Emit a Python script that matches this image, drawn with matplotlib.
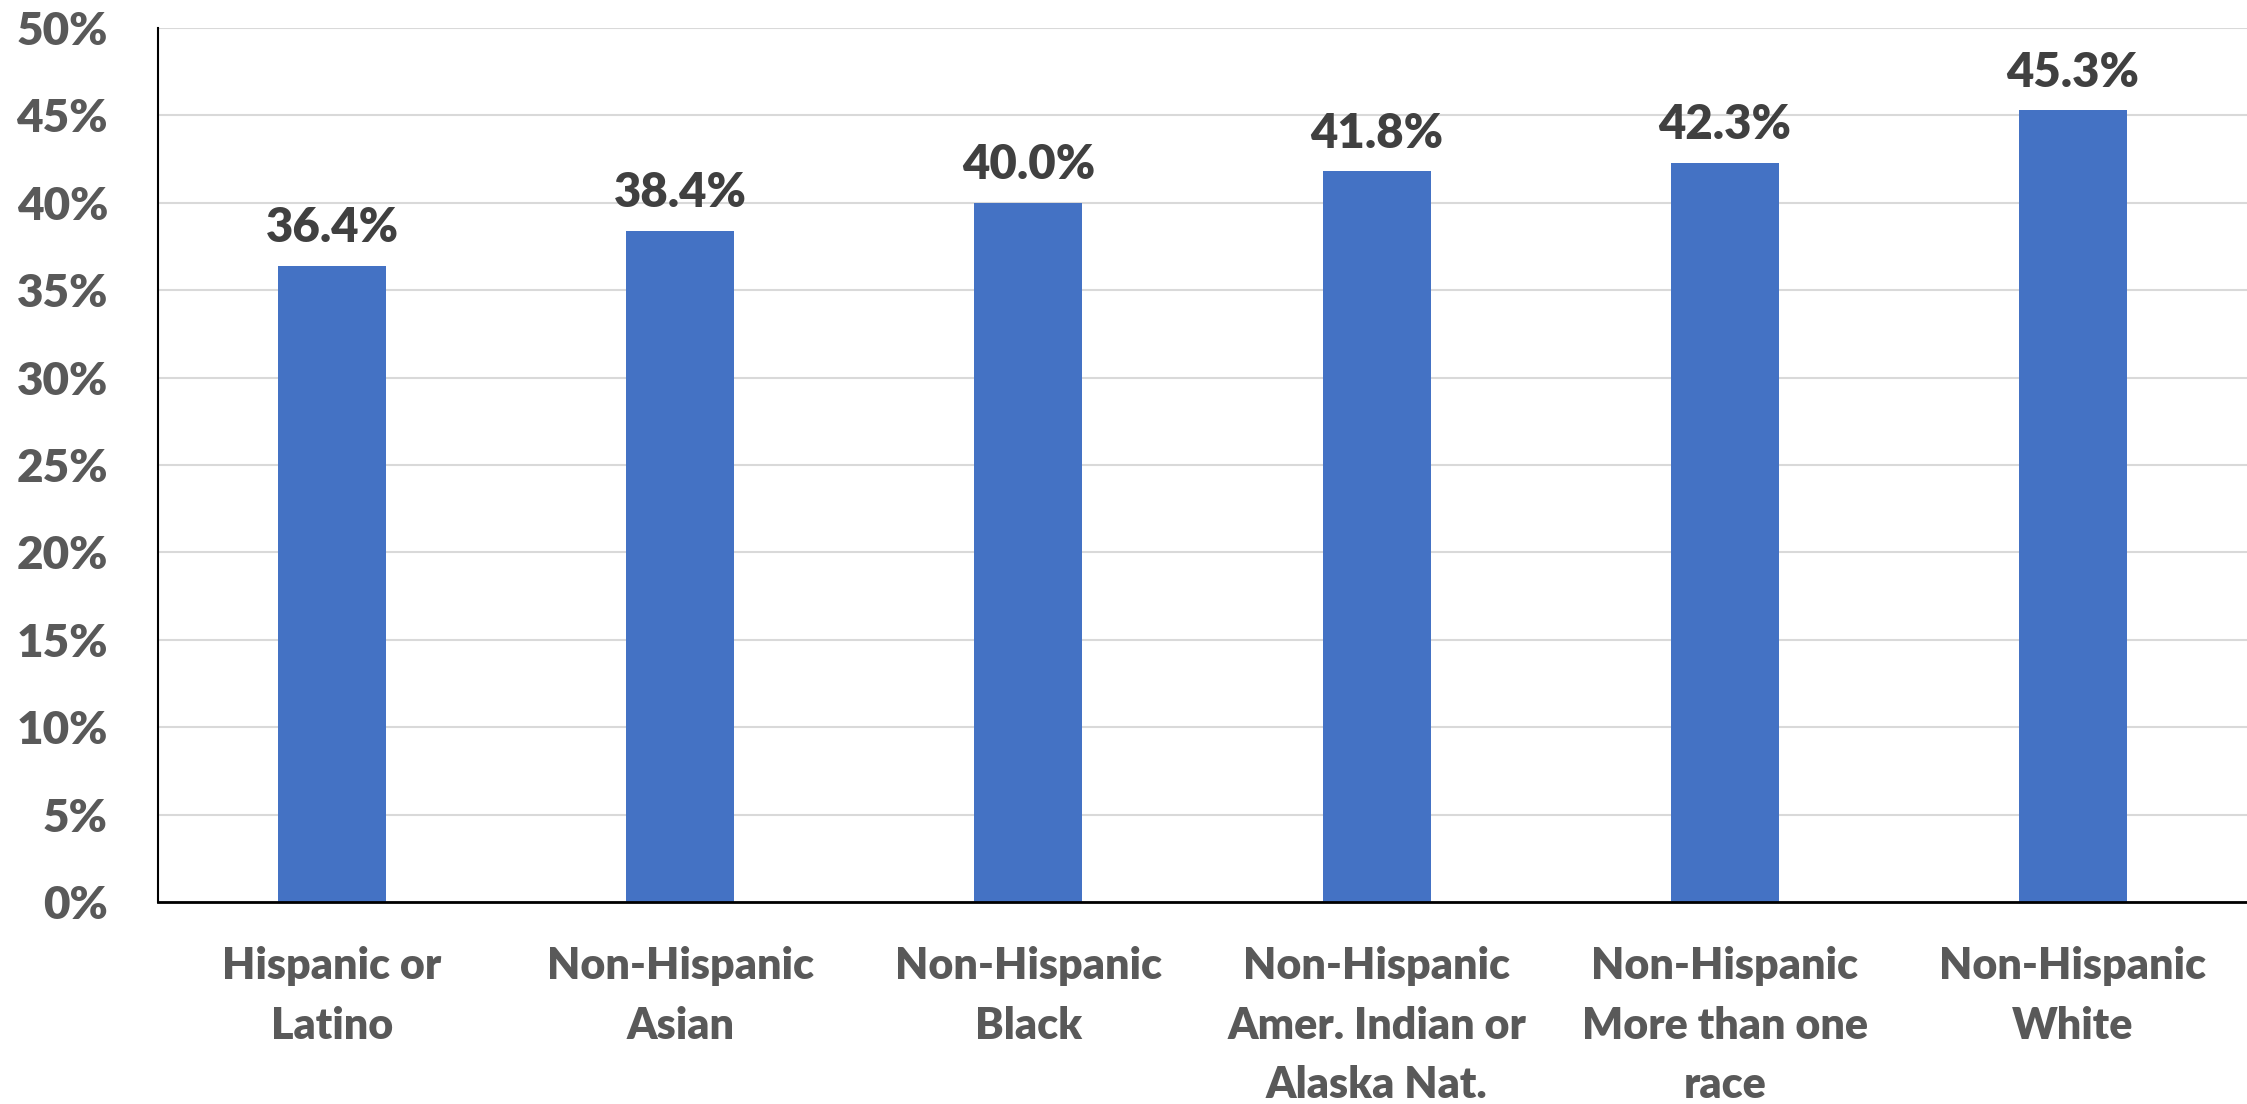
import matplotlib
matplotlib.use("Agg")
import matplotlib.pyplot as plt
from matplotlib.ticker import FuncFormatter, MultipleLocator

categories = ["Hispanic or\nLatino", "Non-Hispanic\nAsian", "Non-Hispanic\nBlack",
              "Non-Hispanic\nAmer. Indian or\nAlaska Nat.", "Non-Hispanic\nMore than one\nrace",
              "Non-Hispanic\nWhite"]
values = [36.4, 38.4, 40.0, 41.8, 42.3, 45.3]

plt.rcParams['font.family'] = ['Lato', 'DejaVu Sans']
W = 'heavy'

fig = plt.figure(figsize=(22.47, 11.04), dpi=100)
ax = fig.add_axes([0.0703, 0.183, 0.9297, 0.7917])

x = list(range(len(categories)))
bars = ax.bar(x, values, width=0.31, color="#4472C4", zorder=3)

ax.set_xlim(-0.5, len(categories) - 0.5)
ax.set_ylim(0, 50)
ax.yaxis.set_major_locator(MultipleLocator(5))
ax.yaxis.set_major_formatter(FuncFormatter(lambda v, p: f"{v:.0f}%"))
ax.grid(axis='y', color="#d9d9d9", linewidth=1.5, zorder=0)
ax.set_axisbelow(True)

for s in ['top', 'right']:
    ax.spines[s].set_visible(False)
ax.spines['left'].set_color('black')
ax.spines['left'].set_linewidth(1.5)
ax.spines['bottom'].set_color('black')
ax.spines['bottom'].set_linewidth(2)
ax.spines['bottom'].set_zorder(4)

ax.set_xticks(x)
ax.set_xticklabels(categories, fontsize=31, fontweight=W, color="#595959", linespacing=1.58)
ax.tick_params(axis='x', length=0, pad=32)
ax.tick_params(axis='y', length=0, pad=36, labelsize=33, labelcolor="#595959")
for lbl in ax.get_yticklabels():
    lbl.set_fontweight(W)

for xi, v in zip(x, values):
    ax.annotate(f"{v:.1f}%", (xi, v), xytext=(0, 11), textcoords='offset points',
                ha='center', va='bottom', fontsize=34, fontweight=W, color="#404040")

fig.savefig("out.png", dpi=100)
